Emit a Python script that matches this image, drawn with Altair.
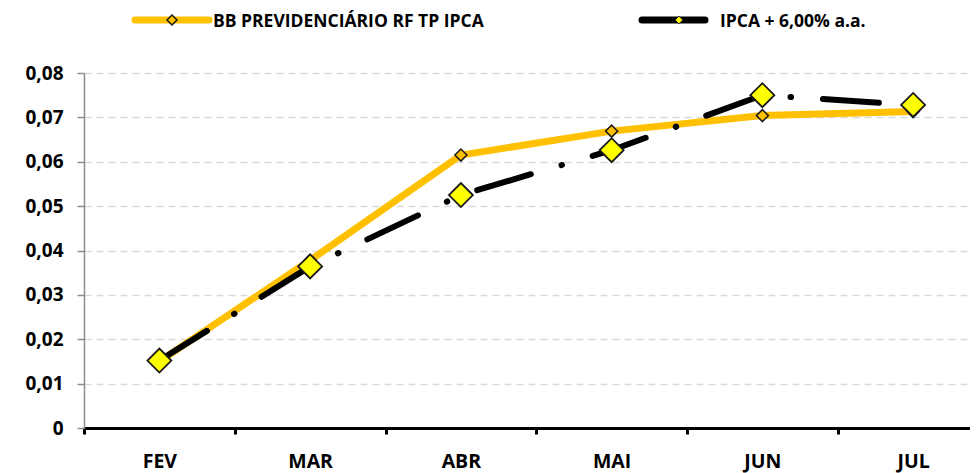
import altair as alt
import pandas as pd

months = ["FEV", "MAR", "ABR", "MAI", "JUN", "JUL"]
bb_prev = [0.0150, 0.0378, 0.0615, 0.0669, 0.0704, 0.0713]
ipca6 = [0.0152, 0.0364, 0.0525, 0.0626, 0.0750, 0.0728]
series_names = ["BB PREVIDENCIÁRIO RF TP IPCA", "IPCA + 6,00% a.a."]

ORANGE = "#FFC000"
YELLOW = "#FFFF00"
FONT = "Open Sans"

df = pd.DataFrame({
    "idx": list(range(len(months))),
    "mes": months,
    "bb": bb_prev,
    "ipca": ipca6,
})

W, H = 886, 355
band = 150.75
xmax = -0.5 + W / band

month_arr = "[" + ",".join(f"'{m}'" for m in months) + "]"
tick_vals = [i - 0.5 for i in range(len(months))] + list(range(len(months)))

x_scale = alt.Scale(domain=[-0.5, xmax], nice=False, zero=False)
y_scale = alt.Scale(domain=[0, 0.08], nice=False)

x_axis = alt.Axis(
    title=None,
    values=tick_vals,
    labelExpr=f"datum.value % 1 == 0 ? {month_arr}[datum.value] : ''",
    grid=False,
    domainColor="black",
    domainWidth=3,
    tickColor="black",
    tickWidth=3,
    tickSize=6,
    tickOpacity={"condition": {"test": "datum.value % 1 != 0", "value": 1}, "value": 0},
    labelFont=FONT,
    labelFontSize=19.5,
    labelFontWeight="bold",
    labelColor="black",
    labelBaseline="alphabetic",
    labelPadding=33,
    labelOverlap=False,
    labelFlush=False,
    labelBound=False,
)

y_axis = alt.Axis(
    title=None,
    values=[0, 0.01, 0.02, 0.03, 0.04, 0.05, 0.06, 0.07, 0.08],
    labelExpr="datum.value == 0 ? '0' : replace(format(datum.value, '.2f'), '.', ',')",
    grid=True,
    gridColor="#D9D9D9",
    gridDash=[7, 5],
    gridWidth=1.5,
    domainColor="#8C8C8C",
    domainWidth=1.5,
    tickColor="#8C8C8C",
    tickWidth=1.5,
    tickSize=7,
    labelFont=FONT,
    labelFontSize=19,
    labelFontWeight="bold",
    labelColor="black",
    labelPadding=14,
)

base = alt.Chart(df)

orange_line = base.mark_line(color=ORANGE, strokeWidth=7, strokeJoin="round", strokeCap="round").encode(
    x=alt.X("idx:Q", scale=x_scale, axis=x_axis),
    y=alt.Y("bb:Q", scale=y_scale, axis=y_axis),
)
orange_pts = base.mark_point(shape="diamond", filled=True, fill=ORANGE, stroke="#1a1a1a",
                             strokeWidth=1.5, size=144, opacity=1).encode(
    x=alt.X("idx:Q", scale=x_scale),
    y=alt.Y("bb:Q", scale=y_scale),
)
black_line = base.mark_line(color="black", strokeWidth=6, strokeCap="round", strokeJoin="round",
                            strokeDash=[56, 32, 0.5, 32]).encode(
    x=alt.X("idx:Q", scale=x_scale),
    y=alt.Y("ipca:Q", scale=y_scale),
)
yellow_pts = base.mark_point(shape="diamond", filled=True, fill=YELLOW, stroke="#1a1a1a",
                             strokeWidth=1.8, size=576, opacity=1).encode(
    x=alt.X("idx:Q", scale=x_scale),
    y=alt.Y("ipca:Q", scale=y_scale),
)

# Legend (manual, above plot area)
leg = pd.DataFrame({"name": series_names})
leg1 = alt.Chart(leg.iloc[[0]])
leg2 = alt.Chart(leg.iloc[[1]])
LY = -53
TY = -51.5
l1_line = leg1.mark_rule(color=ORANGE, strokeWidth=7, strokeCap="round").encode(
    x=alt.value(51), x2=alt.value(125), y=alt.value(LY))
l1_pt = leg1.mark_point(shape="diamond", filled=True, fill=ORANGE, stroke="#1a1a1a",
                        strokeWidth=1.5, size=100, opacity=1).encode(
    x=alt.value(88), y=alt.value(LY))
l1_txt = leg1.mark_text(align="left", baseline="middle", font=FONT, fontSize=17.5,
                        fontWeight="bold", color="black").encode(
    x=alt.value(129), y=alt.value(TY), text="name:N")
l2_line = leg2.mark_rule(color="black", strokeWidth=7, strokeCap="round").encode(
    x=alt.value(558), x2=alt.value(621), y=alt.value(LY))
l2_pt = leg2.mark_point(shape="diamond", filled=True, fill=YELLOW, stroke="#1a1a1a",
                        strokeWidth=1, size=60, opacity=1).encode(
    x=alt.value(595), y=alt.value(LY))
l2_txt = leg2.mark_text(align="left", baseline="middle", font=FONT, fontSize=17.5,
                        fontWeight="bold", color="black").encode(
    x=alt.value(636), y=alt.value(TY), text="name:N")

chart = alt.layer(
    orange_line, orange_pts, black_line, yellow_pts,
    l1_line, l1_pt, l1_txt, l2_line, l2_pt, l2_txt,
).properties(
    width=W, height=H,
    autosize=alt.AutoSizeParams(type="none"),
    padding={"left": 76, "top": 65, "right": 0, "bottom": 45},
    background="white",
).configure_view(stroke=None)

chart.save("out.html", embed_options={"renderer": "svg", "actions": False})
